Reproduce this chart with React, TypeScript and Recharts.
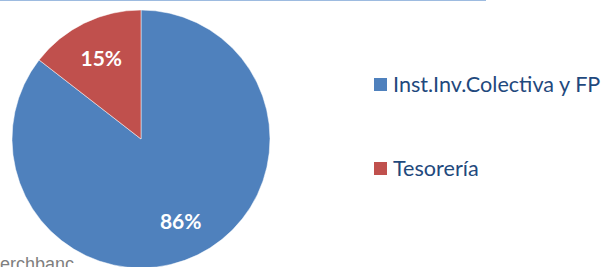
import { PieChart, Pie, Cell, Legend } from "recharts"

// share of the portfolio, in percent
const categories = ["Inst.Inv.Colectiva y FP", "Tesorería"]
const shares = [85.5, 14.5]
const colors = ["#4F81BD", "#C0504D"]
const sourceNote = "erchbanc"

const data = categories.map((name, i) => ({ name, value: shares[i] }))

const RADIAN = Math.PI / 180

function renderLabel(props: any) {
  const { cx, cy, midAngle, outerRadius, value } = props
  const r = outerRadius * 0.7
  const x = cx + r * Math.cos(-midAngle * RADIAN)
  const y = cy + r * Math.sin(-midAngle * RADIAN)
  return (
    <text
      x={x}
      y={y}
      fill="#ffffff"
      textAnchor="middle"
      dominantBaseline="central"
      fontFamily="Lato"
      fontWeight={700}
      fontSize={21}
    >
      {Math.round(value)}%
    </text>
  )
}

function renderLegend(props: any) {
  const { payload } = props
  return (
    <div>
      {payload.map((entry: any) => (
        <div
          key={entry.value}
          style={{ display: "flex", alignItems: "center", height: 30, marginBottom: 54 }}
        >
          <span style={{ width: 13, height: 13, background: entry.color, marginRight: 6 }} />
          <span style={{ fontFamily: "Lato", fontSize: 21.6, color: "#1F497D" }}>{entry.value}</span>
        </div>
      ))}
    </div>
  )
}

export default function App() {
  return (
    <div
      style={{
        position: "fixed",
        top: 0,
        left: 0,
        width: 605,
        height: 267,
        overflow: "hidden",
        background: "#ffffff",
      }}
    >
      <div style={{ position: "absolute", left: 0, top: 0, width: 486, height: 1, background: "#9DBBE0" }} />
      <PieChart width={605} height={267} margin={{ top: 0, right: 0, bottom: 0, left: 0 }}>
        <Pie
          data={data}
          dataKey="value"
          nameKey="name"
          cx={141}
          cy={139}
          outerRadius={129}
          startAngle={90}
          endAngle={-270}
          stroke="#ffffff"
          strokeWidth={0.5}
          label={renderLabel}
          labelLine={false}
          isAnimationActive={false}
        >
          {data.map((d, i) => (
            <Cell key={d.name} fill={colors[i]} />
          ))}
        </Pie>
        <Legend
          content={renderLegend}
          wrapperStyle={{ position: "absolute", left: 374, top: 69, width: 240 }}
        />
      </PieChart>
      <div
        style={{
          position: "absolute",
          left: 0,
          top: 254,
          fontFamily: "Liberation Sans",
          fontSize: 18,
          color: "#7F7F7F",
          whiteSpace: "nowrap",
        }}
      >
        {sourceNote}
      </div>
    </div>
  )
}
